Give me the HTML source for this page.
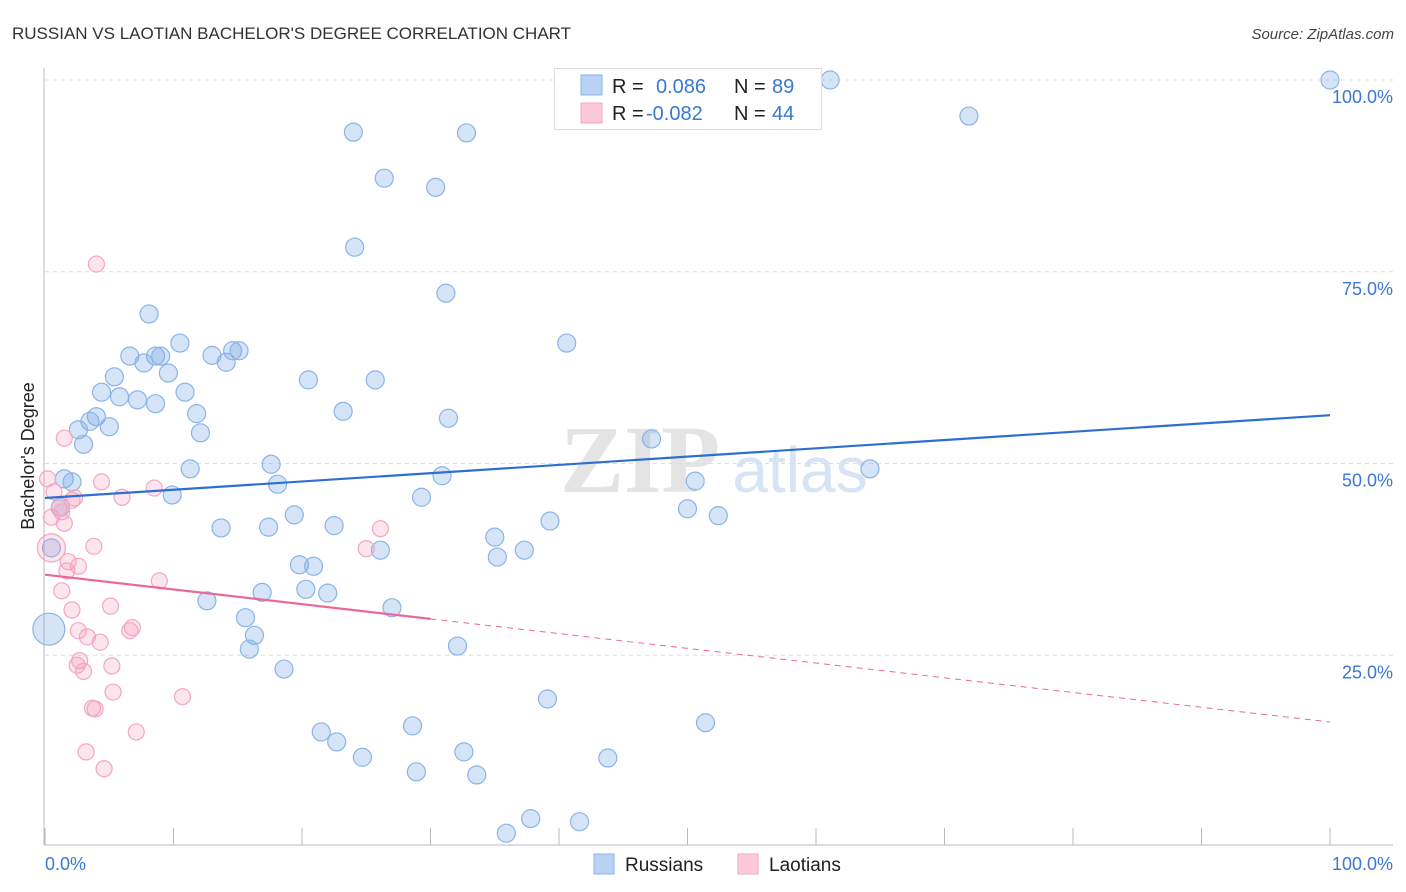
<!DOCTYPE html>
<html><head><meta charset="utf-8">
<style>
body{margin:0;background:#fff;font-family:"Liberation Sans",sans-serif;}
#wrap{position:relative;width:1406px;height:892px;overflow:hidden;}
svg{position:absolute;left:0;top:0;}
</style></head>
<body>
<div id="wrap">
<svg id="chart" width="1406" height="892" xmlns="http://www.w3.org/2000/svg">
<text x="12" y="39" font-size="17" fill="#333">RUSSIAN VS LAOTIAN BACHELOR'S DEGREE CORRELATION CHART</text>
<text x="1394" y="39" font-size="15" fill="#444" font-style="italic" text-anchor="end">Source: ZipAtlas.com</text>
<text x="640" y="492" font-size="96" fill="#e4e4e4" font-family="Liberation Serif,serif" font-weight="bold" text-anchor="middle">ZIP</text>
<text x="800" y="492" font-size="64" fill="#d6e4f5" text-anchor="middle">atlas</text>
<g id="grid"></g>
<g id="axes"></g>
<g id="marks"></g>
<text transform="translate(34,456) rotate(-90)" font-size="18" fill="#222" text-anchor="middle">Bachelor's Degree</text>
<g>
<rect x="554.5" y="68.5" width="267" height="61" fill="#fff" stroke="#ddd"/>
<rect x="581" y="75" width="21" height="20" fill="#b9d3f5" stroke="#8ab4e8"/>
<rect x="581" y="103" width="21" height="20" fill="#fcc9d9" stroke="#f4a7bf"/>
<text x="612" y="93" font-size="20" fill="#222">R = </text><text x="656" y="93" font-size="20" fill="#3a78d4">0.086</text>
<text x="734" y="93" font-size="20" fill="#222">N = </text><text x="772" y="93" font-size="20" fill="#3a78d4">89</text>
<text x="612" y="120" font-size="20" fill="#222">R = </text><text x="646" y="120" font-size="20" fill="#3a78d4">-0.082</text>
<text x="734" y="120" font-size="20" fill="#222">N = </text><text x="772" y="120" font-size="20" fill="#3a78d4">44</text>
</g>
<g>
<rect x="594" y="854" width="20" height="20" fill="#b9d3f5" stroke="#8ab4e8"/>
<text x="625" y="871" font-size="19" fill="#222">Russians</text>
<rect x="738" y="854" width="20" height="20" fill="#fcc9d9" stroke="#f4a7bf"/>
<text x="769" y="871" font-size="19" fill="#222">Laotians</text>
</g>
</svg>
</div>
<script>
const yTicks=[25,50,75,100];
const yTickLabels=["25.0%","50.0%","75.0%","100.0%"];
const xTicks=[0,10,20,30,40,50,60,70,80,90,100];
const xEndLabels=["0.0%","100.0%"];
const russX=[100,61.1,59.4,71.9,24.0,32.8,26.4,30.4,24.1,31.2,8.1,40.6,10.5,6.6,8.6,9.0,13.0,14.1,14.6,15.1,7.7,9.6,5.4,20.5,25.7,4.4,10.9,5.8,7.2,8.6,11.8,4.0,3.5,23.2,31.4,5.0,2.6,12.1,3.0,47.2,17.6,11.3,64.2,30.9,1.5,2.1,50.6,18.1,9.9,29.3,1.2,19.4,50.0,52.4,39.3,13.7,17.4,22.5,35.0,0.5,26.1,37.3,35.2,19.8,20.9,16.9,20.3,22.0,12.6,27.0,15.6,16.3,0.3,15.9,32.1,18.6,39.1,28.6,51.4,21.5,22.7,32.6,24.7,43.8,28.9,33.6,37.8,41.6,35.9];
const russY=[100,100,100,95.3,93.2,93.1,87.2,86.0,78.2,72.2,69.5,65.7,65.7,64.0,64.0,64.0,64.1,63.2,64.7,64.7,63.1,61.8,61.3,60.9,60.9,59.3,59.3,58.7,58.3,57.8,56.5,56.1,55.5,56.8,55.9,54.8,54.4,54.0,52.5,53.2,49.9,49.3,49.3,48.4,48.0,47.6,47.7,47.3,45.9,45.6,44.3,43.3,44.1,43.2,42.5,41.6,41.7,41.9,40.4,39.0,38.7,38.7,37.8,36.8,36.6,33.2,33.6,33.1,32.1,31.2,29.9,27.6,28.4,25.8,26.2,23.2,19.3,15.8,16.2,15.0,13.7,12.4,11.7,11.6,9.8,9.4,3.7,3.3,1.8];
const russBig=[72];
const laoX=[4.0,1.5,0.2,4.4,0.7,2.3,8.5,2.1,6.0,1.1,1.3,0.5,1.5,3.8,0.5,26.1,25.0,1.8,2.6,1.7,8.9,1.3,5.1,2.1,2.6,6.8,6.6,3.3,4.3,2.7,2.5,3.0,5.2,5.3,10.7,3.7,3.9,7.1,3.2,4.6];
const laoY=[76.0,53.3,48.0,47.6,46.3,45.5,46.8,45.2,45.6,44.2,43.7,43.0,42.2,39.2,39.0,41.5,38.9,37.2,36.6,36.0,34.7,33.4,31.4,30.9,28.2,28.6,28.2,27.4,26.7,24.3,23.7,22.9,23.6,20.2,19.6,18.1,18.0,15.0,12.4,10.2];
const laoBig=[14];
const russTrend=[45.5,56.3];
const laoTrend=[35.5,16.3];
const laoSolidEnd=30;

const NS="http://www.w3.org/2000/svg";
const X=v=>45+v*12.85;
const Y=v=>847-v*7.67;
function mk(tag,attrs,parent){const e=document.createElementNS(NS,tag);for(const k in attrs)e.setAttribute(k,attrs[k]);parent.appendChild(e);return e;}
const grid=document.getElementById('grid'),axes=document.getElementById('axes'),marks=document.getElementById('marks');
yTicks.forEach((t,i)=>{
  const l=mk('line',{x1:45,x2:1393,y1:Y(t),y2:Y(t),stroke:'#ddd','stroke-dasharray':'4,4'},grid);
  
  
  const tx=mk('text',{x:1393,y:Y(t)+23,'font-size':18,fill:'#3a78d4','text-anchor':'end'},axes);
  tx.textContent=yTickLabels[i];
  
  
});
let a=mk('line',{x1:44,x2:44,y1:68,y2:845,stroke:'#bbb'},axes);


a=mk('line',{x1:44,x2:1393,y1:845,y2:845,stroke:'#bbb'},axes);


xTicks.forEach(t=>{
  const l=mk('line',{x1:X(t),x2:X(t),y1:828,y2:845,stroke:'#bbb'},axes);
  
  
});
[[0,'start',45],[100,'end',1393]].forEach((d,i)=>{
  const tx=mk('text',{x:d[2],y:870,'font-size':18,fill:'#3a78d4','text-anchor':d[1]},axes);
  tx.textContent=xEndLabels[i];
  
  
});
russX.forEach((x,i)=>{
  const c=mk('circle',{cx:X(x),cy:Y(russY[i]),r:russBig.includes(i)?16:9,fill:'rgba(120,165,230,0.3)',stroke:'#8ab4e8','stroke-width':1.2},marks);
  
  
});
laoX.forEach((x,i)=>{
  const c=mk('circle',{cx:X(x),cy:Y(laoY[i]),r:laoBig.includes(i)?14:8,fill:'rgba(244,150,185,0.25)',stroke:'#f4a7bf','stroke-width':1.2},marks);
  
  
});
let ln=mk('line',{x1:X(0),y1:Y(russTrend[0]),x2:X(100),y2:Y(russTrend[1]),stroke:'#2f6fd0','stroke-width':2.2},marks);


const laoAt=v=>laoTrend[0]+(laoTrend[1]-laoTrend[0])*v/100;
ln=mk('line',{x1:X(0),y1:Y(laoTrend[0]),x2:X(laoSolidEnd),y2:Y(laoAt(laoSolidEnd)),stroke:'#e8699a','stroke-width':2.2},marks);


ln=mk('line',{x1:X(laoSolidEnd),y1:Y(laoAt(laoSolidEnd)),x2:X(100),y2:Y(laoTrend[1]),stroke:'#e8699a','stroke-width':1,'stroke-dasharray':'6,5'},marks);


</script>
</body></html>
